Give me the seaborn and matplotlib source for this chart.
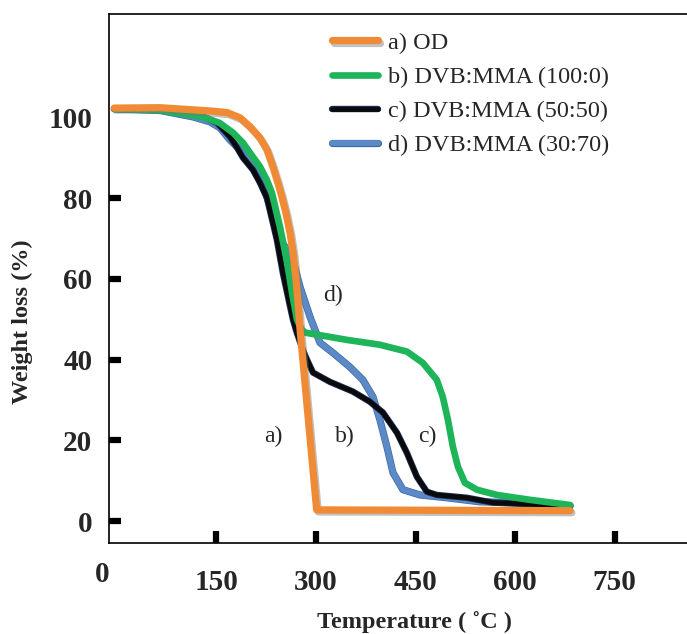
import matplotlib
matplotlib.use('Agg')
from matplotlib import pyplot as plt
import matplotlib.patheffects as pe
from matplotlib.transforms import ScaledTranslation
import seaborn as sns

# TGA curves, temperature (C) vs weight (%)
temp_od = [-4, 65, 140, 166, 185.5, 200.5, 215.6, 226, 235, 242.6, 248.6, 254.7, 260.8, 265.5,
           269.5, 272.8, 276, 301, 683]
wt_od = [102.3, 102.4, 101.6, 101.2, 99.9, 97.7, 94.9, 92.0, 87.8, 83.8, 80.3, 76.3, 71.5, 66.5,
         60.5, 54.5, 47.4, 2.8, 2.6]

temp_b = [-4, 65, 130, 155, 175, 190, 205, 215.6, 226, 233.6, 245.7, 256, 263.8, 271.3, 278,
          283.4, 346.6, 396, 437, 461, 482, 491, 498.8, 506.3, 513.8, 524.4, 542.4, 572.5, 622, 683]
wt_b = [102.1, 101.7, 100.1, 98.6, 96.2, 93.7, 90.2, 87.8, 84.5, 81.3, 72.9, 64.7, 56.6, 49.9, 47.6,
        46.7, 44.9, 43.7, 42.0, 39.2, 35.0, 30.8, 25.1, 18.4, 13.5, 9.5, 7.8, 6.5, 5.3, 4.0]

temp_c = [-4, 65, 125, 151, 170.4, 181, 190, 205, 215.6, 226, 241, 250, 261, 265.3, 271, 280,
          286.4, 295.5, 321, 355.6, 381, 400.9, 422, 437, 452, 467, 482, 527.4, 566.6, 683]
wt_c = [102.1, 101.8, 100.6, 98.6, 95.2, 92.5, 90.0, 87.0, 83.8, 80.1, 69.7, 61.5, 53.1, 49.9, 46.7,
        42.5, 40.0, 36.8, 34.5, 32.1, 29.6, 26.9, 21.9, 16.9, 11.0, 7.3, 6.5, 5.8, 4.6, 3.8]

temp_d = [-4, 65, 115, 140, 155.3, 170.4, 185.5, 200.5, 215.6, 226, 246, 263.7, 276, 291, 306,
          325.5, 351, 370.6, 385.8, 396.3, 406.9, 416, 431, 456.6, 497, 547, 596.6, 683]
wt_d = [102.1, 101.7, 100.1, 98.9, 97.4, 94.4, 92.0, 88.7, 84.5, 80.3, 69.7, 65.5, 58.0, 50.6, 44.2,
        41.7, 38.2, 35.0, 30.8, 25.1, 18.4, 12.0, 7.8, 6.5, 5.8, 4.8, 4.6, 3.8]

labels = ['a) OD', 'b) DVB:MMA (100:0)', 'c) DVB:MMA (50:50)', 'd) DVB:MMA (30:70)']
x_ticks = [0, 150, 300, 450, 600, 750]
y_ticks = [0, 20, 40, 60, 80, 100]

sns.set_style('white')
plt.rcParams['font.family'] = ['Liberation Serif', 'DejaVu Serif']

fig = plt.figure(figsize=(6.87, 6.34), dpi=100)
ax = fig.add_axes([109 / 687, 1 - 543 / 634, 578 / 687, 529 / 634])

line_kw = dict(sort=False, estimator=None, ax=ax, solid_capstyle='round', solid_joinstyle='round')

# draw order: blue, black, green, orange on top
sns.lineplot(x=temp_d, y=wt_d, color='#5b8ac6', lw=4.2, label=labels[3],
             path_effects=[pe.Stroke(linewidth=5.2, foreground='#3a68a8'), pe.Normal()], **line_kw)
sns.lineplot(x=temp_c, y=wt_c, color='#0a0a0a', lw=3.4, label=labels[2],
             path_effects=[pe.Stroke(linewidth=4.6, foreground='#1b2d5c'), pe.Normal()], **line_kw)
sns.lineplot(x=temp_b, y=wt_b, color='#1db45a', lw=4.8, label=labels[1], **line_kw)
sns.lineplot(x=temp_od, y=wt_od, color='#f08a34', lw=5.2, label=labels[0],
             path_effects=[pe.SimpleLineShadow(offset=(1.2, -1.5), shadow_color='#777777', alpha=0.45),
                           pe.Normal()], **line_kw)

ax.set_xlim(-11.9, 859)
ax.set_ylim(-5.4, 125.6)
ax.set_xticks(x_ticks)
ax.set_yticks(y_ticks)
ax.set_xticklabels([str(t) for t in x_ticks], fontsize=21, fontweight='bold')
ax.set_yticklabels([str(t) for t in y_ticks], fontsize=21, fontweight='bold')
ax.tick_params(axis='both', bottom=True, left=True, direction='in', length=8.5, width=4.5,
               color='black')
ax.tick_params(axis='x', pad=19)
ax.tick_params(axis='y', pad=12)

# no tick mark at x=0 and y=100
ax.xaxis.get_major_ticks()[0].tick1line.set_visible(False)
ax.yaxis.get_major_ticks()[-1].tick1line.set_visible(False)

for side in ['left', 'bottom', 'top']:
    ax.spines[side].set_linewidth(1.2)
    ax.spines[side].set_color('black')
ax.spines['right'].set_visible(False)

ax.set_xlabel('Temperature ( ˚C )', fontsize=17.5, fontweight='bold', va='center')
ax.xaxis.set_label_coords(0.529, -0.149)
ax.set_ylabel('Weight loss (%)', fontsize=17.5, fontweight='bold', va='center')
ax.yaxis.set_label_coords(-0.149, 0.418)

# curve tags
for txt, tx, ty in [('d)', 325, 56), ('a)', 235, 21), ('b)', 343, 21), ('c)', 468, 21)]:
    ax.text(tx, ty, txt, fontsize=17, ha='center', va='center')

h, l = ax.get_legend_handles_labels()
order = [l.index(t) for t in labels]
ax.legend([h[i] for i in order], [l[i] for i in order], loc='upper left',
          bbox_to_anchor=(0.386, 0.966), frameon=False, fontsize=17.5, handlelength=1.9,
          handletextpad=0.4, labelspacing=0.5, borderpad=0, borderaxespad=0)

# shift the "0" label like in the original
lab0 = ax.get_xticklabels()[0]
lab0.set_transform(lab0.get_transform() + ScaledTranslation(-0.15, 0.08, fig.dpi_scale_trans))

fig.savefig('out.png', dpi=100)
